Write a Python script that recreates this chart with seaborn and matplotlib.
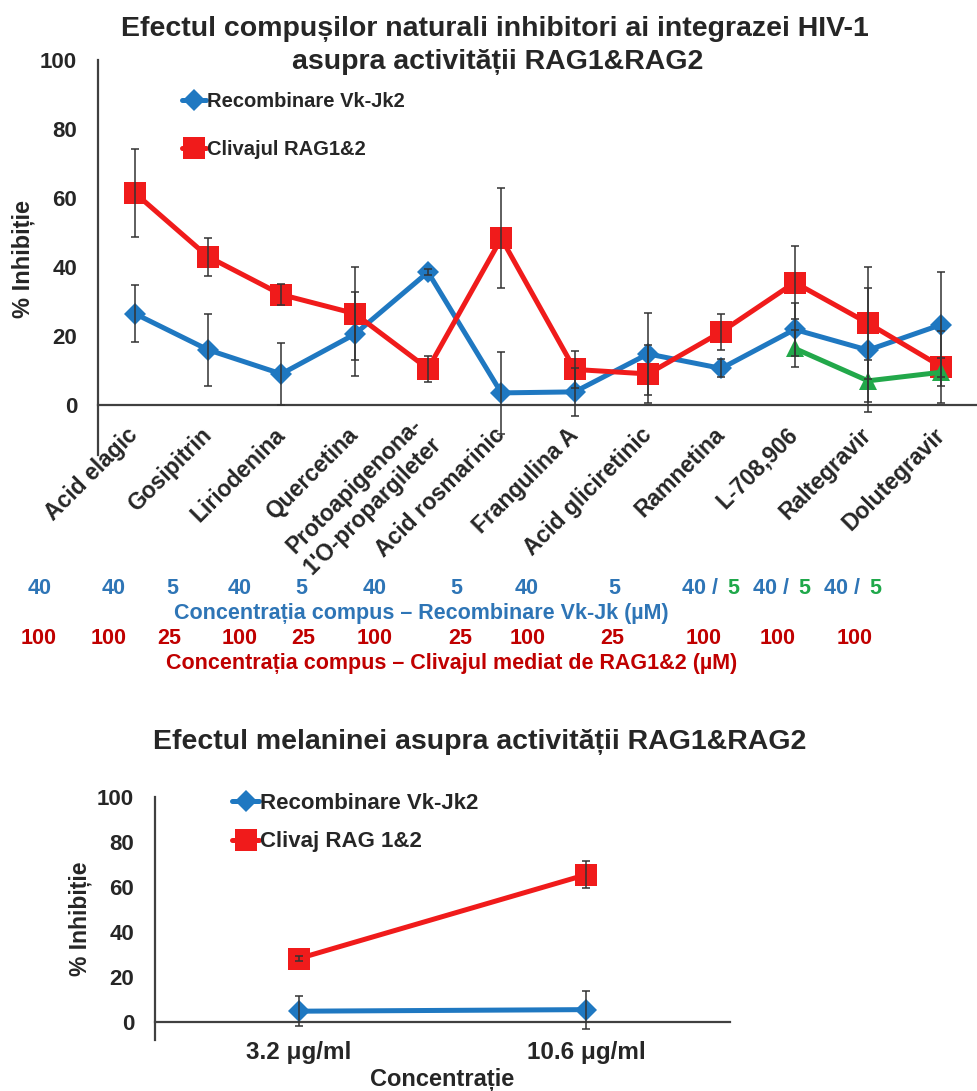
import numpy as np
import pandas as pd
import matplotlib
matplotlib.use("Agg")
import matplotlib.pyplot as plt
import seaborn as sns
from matplotlib.lines import Line2D

# ---------------- data ----------------
compounds = ["Acid elagic", "Gosipitrin", "Liriodenina", "Quercetina",
             "Protoapigenona-\n1'O-propargileter", "Acid rosmarinic", "Frangulina A",
             "Acid gliciretinic", "Ramnetina", "L-708,906", "Raltegravir", "Dolutegravir"]
recomb_vals = [26.5, 16.0, 9.0, 20.5, 38.5, 3.5, 3.8, 14.8, 10.6, 21.9, 15.9, 23.3]
recomb_err = [8.3, 10.5, 9.0, 12.2, 0.8, 12.0, 7.0, 11.8, 2.6, 7.8, 18.0, 15.3]
cliv_vals = [61.5, 43.0, 32.0, 26.5, 10.5, 48.3, 10.3, 9.0, 21.2, 35.5, 23.7, 11.1]
cliv_err = [12.7, 5.5, 3.0, 13.5, 3.7, 14.5, 5.4, 8.5, 5.3, 10.5, 16.3, 10.4]
green_compounds = ["L-708,906", "Raltegravir", "Dolutegravir"]
green_vals = [16.4, 7.0, 9.5]
green_err = [5.3, 6.0, 4.0]

conc_recomb = ["40", "40", "5", "40", "5", "40", "5", "40", "5", "40 / ", "40 / ", "40 / "]
conc_recomb_green = ["", "", "", "", "", "", "", "", "", "5", "5", "5"]
conc_cliv = ["100", "100", "25", "100", "25", "100", "25", "100", "25", "100", "100", "100"]

mel_conc = ["3.2 μg/ml", "10.6 μg/ml"]
mel_recomb = [4.8, 5.5]
mel_recomb_err = [6.7, 8.5]
mel_cliv = [28.2, 65.5]
mel_cliv_err = [1.0, 6.0]

# ---------------- style ----------------
sns.set_theme(style="white")
plt.rcParams["font.family"] = ["Liberation Sans", "DejaVu Sans"]
plt.rcParams["font.weight"] = "bold"

BLUE = "#1f78c1"
RED = "#f01b1b"
GREEN = "#22a84a"
TXT_BLUE = "#2e75b6"
TXT_RED = "#c00000"
TXT_GREEN = "#1fa84a"
AXC = "#404040"

W, H = 978, 1091
fig = plt.figure(figsize=(W / 100, H / 100), dpi=100)


def fx(px):
    return px / W


def fy(py):
    return 1 - py / H


def style_axes(ax, ymin, n, ysize):
    ax.set_xlim(-0.5, n - 0.5)
    ax.set_ylim(ymin, 100)
    ax.set_yticks([0, 20, 40, 60, 80, 100])
    for s in ["top", "right"]:
        ax.spines[s].set_visible(False)
    ax.spines["bottom"].set_position(("data", 0))
    for s in ["left", "bottom"]:
        ax.spines[s].set_color(AXC)
        ax.spines[s].set_linewidth(1.6)
    ax.spines["left"].set_bounds(ymin, 100)
    ax.tick_params(axis="y", direction="out", length=6, width=1.4, color=AXC,
                   labelsize=ysize, pad=9)
    ax.set_xticks(np.arange(n))
    ax.set_xticks(np.arange(n + 1) - 0.5, minor=True)
    ax.tick_params(axis="x", which="major", length=0)
    ax.tick_params(axis="x", which="minor", direction="out", length=7, width=1.4, color=AXC)
    for lab in ax.get_yticklabels():
        lab.set_fontweight("bold")
    ax.grid(False)


# ---------------- top chart ----------------
ax1 = fig.add_axes([fx(98), 1 - 455 / H, 880 / W, 395 / H])
n = len(compounds)
xpos = np.arange(n)
gpos = np.array([compounds.index(c) for c in green_compounds])

df_top = pd.DataFrame({
    "x": np.concatenate([xpos, xpos, gpos]),
    "y": np.concatenate([recomb_vals, cliv_vals, green_vals]),
    "serie": ["Recombinare Vk-Jk2"] * n + ["Clivajul RAG1&2"] * n + ["Verde"] * len(gpos),
})
pal = {"Recombinare Vk-Jk2": BLUE, "Clivajul RAG1&2": RED, "Verde": GREEN}
mk = {"Recombinare Vk-Jk2": "D", "Clivajul RAG1&2": "s", "Verde": "^"}
sns.lineplot(data=df_top, x="x", y="y", hue="serie", style="serie", palette=pal,
             markers=mk, dashes=False, linewidth=3.6, markersize=13,
             markeredgewidth=0, ax=ax1, legend=False, sort=False)
for line in ax1.lines:
    if line.get_marker() == "s":
        line.set_markersize(15.5)
    elif line.get_marker() == "^":
        line.set_markersize(13)
    elif line.get_marker() == "D":
        line.set_markersize(11.5)

for xs, vals, errs in [(xpos, cliv_vals, cliv_err), (xpos, recomb_vals, recomb_err),
                       (gpos, green_vals, green_err)]:
    ax1.errorbar(xs, vals, yerr=errs, fmt="none", ecolor="#333333",
                 elinewidth=1.1, capsize=3, capthick=1.1, zorder=5)

style_axes(ax1, -14.5, n, 16)
ax1.set_xticklabels(compounds, rotation=45, ha="right", va="center",
                    rotation_mode="anchor", fontsize=16.5, fontweight="bold")
ax1.tick_params(axis="x", which="major", pad=19)
ax1.set_xlabel("")
ax1.set_ylabel("% Inhibiție", fontsize=17, fontweight="bold")
ax1.yaxis.set_label_coords(-0.072, 0.495)

h1 = [Line2D([0], [0], color=BLUE, lw=3.6, marker="D", ms=11.5, mew=0),
      Line2D([0], [0], color=RED, lw=3.6, marker="s", ms=15.5, mew=0)]
ax1.legend(h1, ["Recombinare Vk-Jk2", "Clivajul RAG1&2"], loc="upper left",
           bbox_to_anchor=(0.075, 0.965), frameon=False, handlelength=1.2,
           handletextpad=0.05, labelspacing=1.45, prop={"size": 14.5, "weight": "bold"})

fig.text(fx(495), fy(29), "Efectul compușilor naturali inhibitori ai integrazei HIV-1",
         ha="center", va="center", fontsize=20.5, fontweight="bold")
fig.text(fx(498), fy(62), "asupra activității RAG1&RAG2",
         ha="center", va="center", fontsize=20.5, fontweight="bold")

# concentration rows
blue_x = [40, 114, 172, 240, 301, 375, 456, 527, 614, 716, 787, 858]
red_x = [39, 109, 169, 240, 303, 375, 460, 528, 612, 704, 778, 855]
for i in range(n):
    if conc_recomb_green[i]:
        fig.text(fx(blue_x[i]) - 0.013, fy(588), conc_recomb[i], ha="center",
                 va="center", fontsize=15.5, fontweight="bold", color=TXT_BLUE)
        fig.text(fx(blue_x[i]) + 0.018, fy(588), conc_recomb_green[i], ha="center",
                 va="center", fontsize=15.5, fontweight="bold", color=TXT_GREEN)
    else:
        fig.text(fx(blue_x[i]), fy(588), conc_recomb[i], ha="center", va="center",
                 fontsize=15.5, fontweight="bold", color=TXT_BLUE)
    fig.text(fx(red_x[i]), fy(638), conc_cliv[i], ha="center", va="center",
             fontsize=15.5, fontweight="bold", color=TXT_RED)
fig.text(fx(421), fy(613), "Concentrația compus – Recombinare Vk-Jk (µM)",
         ha="center", va="center", fontsize=15.5, fontweight="bold", color=TXT_BLUE)
fig.text(fx(452), fy(663), "Concentrația compus – Clivajul mediat de RAG1&2 (µM)",
         ha="center", va="center", fontsize=15.5, fontweight="bold", color=TXT_RED)

# ---------------- bottom chart ----------------
ax2 = fig.add_axes([fx(155), 1 - 1040 / H, 575 / W, 243 / H])
m = len(mel_conc)
mpos = np.arange(m)
df_bot = pd.DataFrame({
    "x": np.concatenate([mpos, mpos]),
    "y": np.concatenate([mel_recomb, mel_cliv]),
    "serie": ["Recombinare Vk-Jk2"] * m + ["Clivaj RAG 1&2"] * m,
})
pal2 = {"Recombinare Vk-Jk2": BLUE, "Clivaj RAG 1&2": RED}
mk2 = {"Recombinare Vk-Jk2": "D", "Clivaj RAG 1&2": "s"}
sns.lineplot(data=df_bot, x="x", y="y", hue="serie", style="serie", palette=pal2,
             markers=mk2, dashes=False, linewidth=3.6, markersize=13,
             markeredgewidth=0, ax=ax2, legend=False, sort=False)
for line in ax2.lines:
    if line.get_marker() == "s":
        line.set_markersize(15.5)
    elif line.get_marker() == "D":
        line.set_markersize(11.5)
ax2.errorbar(mpos, mel_cliv, yerr=mel_cliv_err, fmt="none", ecolor="#333333",
             elinewidth=1.1, capsize=3, capthick=1.1, zorder=5)
ax2.errorbar(mpos, mel_recomb, yerr=mel_recomb_err, fmt="none", ecolor="#333333",
             elinewidth=1.1, capsize=3, capthick=1.1, zorder=5)
style_axes(ax2, -8, m, 16)
ax2.set_xticklabels(mel_conc, fontsize=17.5, fontweight="bold")
ax2.tick_params(axis="x", which="major", pad=14)
ax2.set_xlabel("Concentrație", fontsize=17, fontweight="bold")
ax2.xaxis.set_label_coords(0.5, -0.115)
ax2.set_ylabel("% Inhibiție", fontsize=16.5, fontweight="bold")
ax2.yaxis.set_label_coords(-0.11, 0.5)

h2 = [Line2D([0], [0], color=BLUE, lw=3.6, marker="D", ms=11.5, mew=0),
      Line2D([0], [0], color=RED, lw=3.6, marker="s", ms=15.5, mew=0)]
ax2.legend(h2, ["Recombinare Vk-Jk2", "Clivaj RAG 1&2"], loc="upper left",
           bbox_to_anchor=(0.1, 1.1), frameon=False, handlelength=1.2,
           handletextpad=0.05, labelspacing=0.8, prop={"size": 16, "weight": "bold"})

fig.text(fx(480), fy(742), "Efectul melaninei asupra activității RAG1&RAG2",
         ha="center", va="center", fontsize=20.5, fontweight="bold")

fig.savefig("out.png", dpi=100, facecolor="white")
